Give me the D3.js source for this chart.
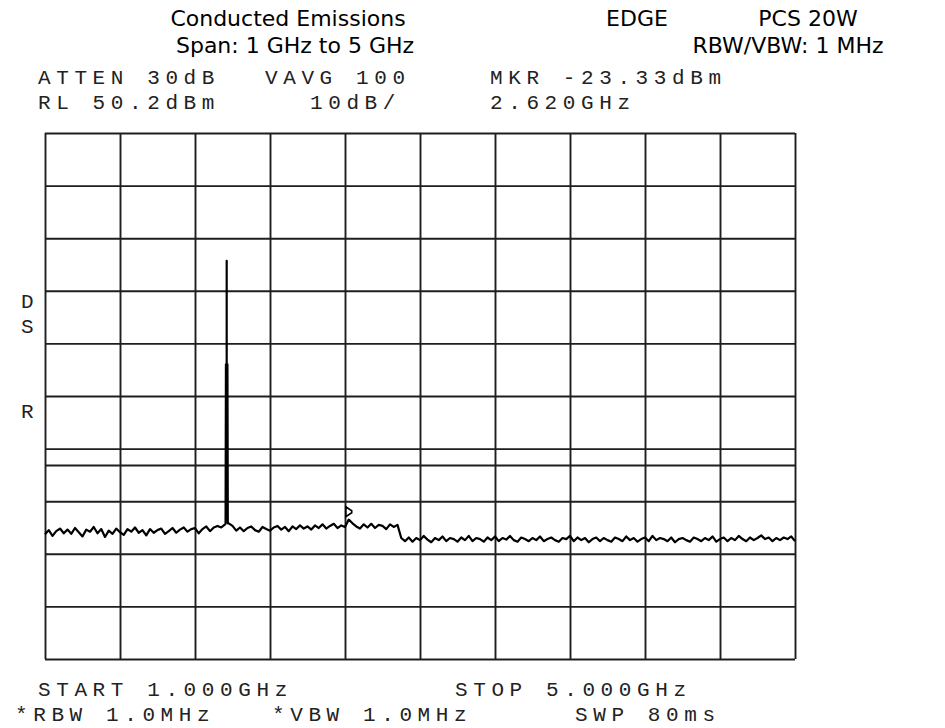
<!DOCTYPE html>
<html>
<head>
<meta charset="utf-8">
<script src="https://cdn.jsdelivr.net/npm/d3@7"></script>
<style>
  body { margin: 0; background: #fff; }
  .title { font-family: "DejaVu Sans", Verdana, sans-serif; font-size: 22px; fill: #000; text-anchor: middle; }
  .hp { font-family: "Liberation Mono", "DejaVu Sans Mono", monospace; font-size: 21px; fill: #222; letter-spacing: 5.6px; }
</style>
</head>
<body>
<div id="chart"></div>
<script>
// sweep settings
const startGHz = 1.0, stopGHz = 5.0;
const refLevel = 50.2, dbPerDiv = 10, divisions = 10;
const displayLine = -13;
const markerFreq = 2.62, markerLevel = -23.33;

// trace levels (dBm), 201 sweep points from 1 GHz to 5 GHz
const traceLevels = [
  -26.1, -25.3, -26.4, -25.5, -25.0, -25.9, -25.2, -26.0, -24.9, -25.7,
  -26.5, -25.2, -25.6, -24.7, -25.9, -25.1, -26.6, -25.4, -26.0, -25.0,
  -25.7, -26.2, -25.1, -25.6, -24.8, -25.8, -25.3, -26.3, -25.1, -25.8,
  -25.3, -25.0, -26.0, -25.5, -24.9, -25.8, -25.2, -24.8, -25.6, -25.1,
  -24.9, -25.9, -25.1, -24.6, -25.5, -24.8, -24.5, -24.8, -24.2, -24.0,
  -24.5, -25.4, -24.8, -25.5, -24.9, -24.6, -25.3, -25.6, -24.7, -25.1,
  -25.4, -24.8, -24.5, -25.2, -24.7, -25.5, -24.6, -25.1, -24.4, -25.0,
  -24.6, -25.2, -24.4, -24.9, -24.2, -25.0, -24.5, -24.1, -24.9, -24.4,
  -24.7, -23.3, -24.0, -24.6, -25.0, -24.2, -24.8, -24.1, -24.9, -24.3,
  -24.5, -25.1, -24.2, -24.7, -24.3, -26.8, -27.4, -26.7, -27.5, -26.8,
  -27.2, -26.4, -27.1, -27.6, -26.8, -27.2, -26.5, -27.4, -26.8, -27.0,
  -27.5, -26.7, -27.2, -26.4, -27.4, -26.8, -27.0, -27.5, -26.7, -27.2,
  -26.5, -27.4, -26.8, -27.1, -26.4, -27.2, -27.5, -26.7, -27.0, -27.4,
  -26.8, -27.2, -26.5, -27.4, -27.0, -26.7, -27.2, -27.5, -26.8, -27.0,
  -26.4, -27.4, -26.7, -27.2, -26.8, -27.6, -27.0, -26.7, -27.4, -26.8,
  -27.2, -27.5, -26.7, -27.0, -27.4, -26.5, -27.2, -26.8, -27.5, -27.0,
  -26.7, -27.4, -26.4, -27.2, -26.8, -27.0, -27.4, -26.7, -27.6, -27.0,
  -26.8, -27.2, -27.5, -26.7, -27.0, -27.4, -26.8, -27.2, -26.5, -27.5,
  -27.0, -26.7, -27.4, -26.8, -27.2, -26.4, -27.0, -27.4, -26.7, -27.2,
  -26.8, -26.3, -27.0, -26.7, -27.4, -26.8, -27.2, -26.7, -27.0, -26.5,
  -27.4
];

// PCS carrier spike
const carrierFreqs = [1.963, 1.965, 1.969, 1.969, 1.969, 1.973, 1.975];
const carrierLevels = [-24.1, 6.2, 6.2, 25.9, 6.2, 6.2, -24.0];

const titleRows = [
  [{ text: "Conducted Emissions", x: 288 }, { text: "EDGE", x: 637 }, { text: "PCS 20W", x: 808 }],
  [{ text: "Span: 1 GHz to 5 GHz", x: 295 }, { text: "RBW/VBW: 1 MHz", x: 788 }]
];
const headerRows = [
  [{ text: "ATTEN 30dB", x: 38 }, { text: "VAVG 100", x: 265 }, { text: "MKR -23.33dBm", x: 490 }],
  [{ text: "RL 50.2dBm", x: 38 }, { text: "10dB/", x: 310 }, { text: "2.620GHz", x: 490 }]
];
const footerRows = [
  [{ text: "START 1.000GHz", x: 38 }, { text: "STOP 5.000GHz", x: 455 }],
  [{ text: "*RBW 1.0MHz", x: 15 }, { text: "*VBW 1.0MHz", x: 272 }, { text: "SWP 80ms", x: 575 }]
];
const sideLabels = [{ text: "D", y: 300 }, { text: "S", y: 325 }, { text: "R", y: 410 }];

let width = 945,
    height = 728,
    margin = ({ top: 133, right: 150, bottom: 69, left: 45 });

const svg = d3.select("#chart")
  .append("svg")
  .attr("width", width)
  .attr("height", height)
  .attr("viewBox", [0, 0, width, height]);

svg.append("rect").attr("width", width).attr("height", height).attr("fill", "#fff");

let x = d3.scaleLinear()
  .domain([startGHz, stopGHz])
  .range([margin.left, width - margin.right]);

let y = d3.scaleLinear()
  .domain([refLevel - dbPerDiv * divisions, refLevel])
  .range([height - margin.bottom, margin.top]);

const xTicks = d3.range(divisions + 1).map(i => startGHz + i * (stopGHz - startGHz) / divisions);
const yTicks = d3.range(divisions + 1).map(i => refLevel - i * dbPerDiv);

// graticule
svg.append("g")
  .attr("class", "x-grid")
  .attr("transform", `translate(0,${height - margin.bottom})`)
  .call(d3.axisBottom(x).tickValues(xTicks).tickFormat("").tickSize(-(height - margin.top - margin.bottom)).tickSizeOuter(0))
  .call(g => g.select(".domain").remove())
  .call(g => g.selectAll(".tick line").attr("stroke", "#1e1e1e").attr("stroke-width", 1.9));

svg.append("g")
  .attr("class", "y-grid")
  .attr("transform", `translate(${margin.left},0)`)
  .call(d3.axisLeft(y).tickValues(yTicks).tickFormat("").tickSize(-(width - margin.left - margin.right)).tickSizeOuter(0))
  .call(g => g.select(".domain").remove())
  .call(g => g.selectAll(".tick line").attr("stroke", "#1e1e1e").attr("stroke-width", 1.9));

// display line
svg.append("line")
  .attr("x1", x(startGHz)).attr("x2", x(stopGHz))
  .attr("y1", y(displayLine)).attr("y2", y(displayLine))
  .attr("stroke", "#1e1e1e").attr("stroke-width", 1.9);

// trace
const step = (stopGHz - startGHz) / (traceLevels.length - 1);
let trace = traceLevels.map((v, i) => ({ f: startGHz + i * step, v }));
carrierFreqs.forEach((f, i) => trace.push({ f, v: carrierLevels[i] }));
trace = d3.sort(trace, (a, b) => a.f - b.f);

svg.append("path")
  .datum(trace)
  .attr("fill", "none")
  .attr("stroke", "#000")
  .attr("stroke-width", 2.2)
  .attr("stroke-linejoin", "round")
  .attr("d", d3.line().x(d => x(d.f)).y(d => y(d.v)));

// marker
const mx = x(markerFreq), my = y(markerLevel) - 8;
svg.append("path")
  .attr("d", `M${mx - 3},${my - 5}L${mx + 3},${my - 1}L${mx + 3},${my + 1}L${mx - 3},${my + 5}Z`)
  .attr("fill", "none")
  .attr("stroke", "#000")
  .attr("stroke-width", 1.6);

// texts
titleRows.forEach((row, r) => {
  svg.append("g").selectAll("text")
    .data(row)
    .join("text")
    .attr("class", "title")
    .attr("x", d => d.x)
    .attr("y", 26 + r * 27)
    .text(d => d.text);
});

[headerRows, footerRows].forEach((rows, k) => {
  rows.forEach((row, r) => {
    svg.append("g").selectAll("text")
      .data(row)
      .join("text")
      .attr("class", "hp")
      .attr("x", d => d.x)
      .attr("y", (k === 0 ? 84 : 696) + r * 25)
      .text(d => d.text);
  });
});

svg.append("g").selectAll("text")
  .data(sideLabels)
  .join("text")
  .attr("class", "hp")
  .attr("x", 21)
  .attr("y", d => d.y + 8)
  .text(d => d.text);
</script>
</body>
</html>
